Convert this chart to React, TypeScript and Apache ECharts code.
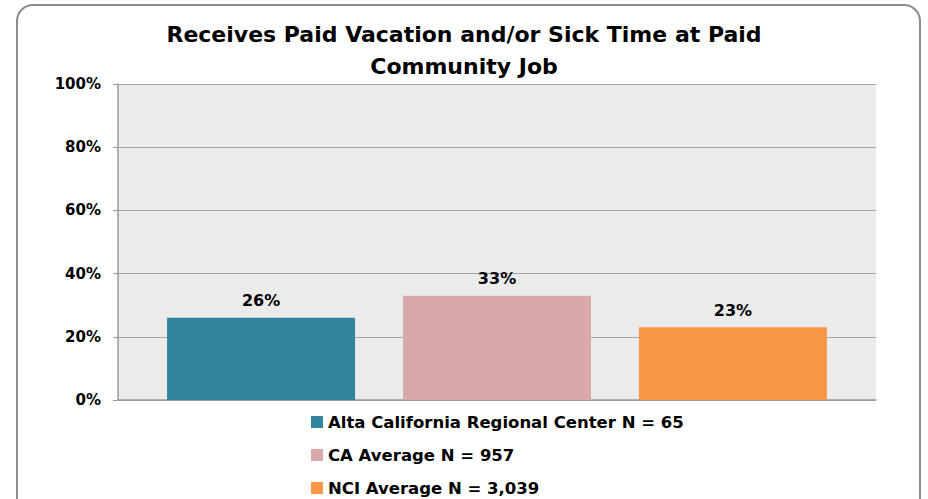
import React, { useEffect, useRef } from "react";
import * as echarts from "echarts";

const titleText = "Receives Paid Vacation and/or Sick Time at Paid\nCommunity Job";
const seriesNames = ["Alta California Regional Center N = 65", "CA Average N = 957", "NCI Average N = 3,039"];
const seriesValues = [26, 33, 23];
const seriesColors = ["#31849B", "#D9A8A9", "#F79646"];
const categories = [""];

export default function App() {
  const ref = useRef<HTMLDivElement>(null);
  useEffect(() => {
    if (!ref.current) return;
    const chart = echarts.init(ref.current, null, { renderer: "svg" });
    const font = "'DejaVu Sans', sans-serif";
    chart.setOption({
      animation: false,
      backgroundColor: "#ffffff",
      title: {
        text: titleText,
        left: "center",
        top: 13,
        textStyle: { fontFamily: font, fontWeight: "bold", fontSize: 22, lineHeight: 32, color: "#000" },
      },
      graphic: [
        {
          type: "rect",
          shape: { x: 17, y: 5, width: 903, height: 530, r: 16 },
          style: { fill: "none", stroke: "#8c8c8c", lineWidth: 2 },
          z: 100,
        },
      ],
      legend: {
        orient: "vertical",
        left: 306,
        top: 408,
        height: 150,
        itemWidth: 12,
        itemHeight: 12,
        itemGap: 15,
        icon: "rect",
        textStyle: { fontFamily: font, fontWeight: "bold", fontSize: 16.5, color: "#000", lineHeight: 18 },
        data: seriesNames,
      },
      grid: {
        left: 118,
        right: 52,
        top: 84,
        bottom: 99,
        show: true,
        backgroundColor: "#EBEBEB",
        borderWidth: 0,
      },
      xAxis: {
        type: "category",
        data: categories,
        axisLine: { show: true, lineStyle: { color: "#9a9a9a", width: 1.5 } },
        axisTick: { show: false },
        axisLabel: { show: false },
      },
      yAxis: {
        type: "value",
        min: 0,
        max: 100,
        interval: 20,
        axisLine: { show: true, lineStyle: { color: "#9a9a9a", width: 1.5 } },
        axisTick: { show: true, length: 5, lineStyle: { color: "#9a9a9a" } },
        splitLine: { lineStyle: { color: "#a6a6a6", width: 1 } },
        axisLabel: {
          formatter: "{value}%",
          fontFamily: font,
          fontWeight: "bold",
          fontSize: 15,
          color: "#000",
          margin: 17,
        },
      },
      series: seriesNames.map((name, i) => ({
        name,
        type: "bar",
        data: [seriesValues[i]],
        barWidth: 188,
        barGap: "25.5%",
        itemStyle: { color: seriesColors[i] },
        label: {
          show: true,
          position: "top",
          distance: 9,
          formatter: "{c}%",
          fontFamily: font,
          fontWeight: "bold",
          fontSize: 16,
          color: "#000",
        },
      })),
    });
    return () => chart.dispose();
  }, []);
  return <div ref={ref} style={{ position: "fixed", left: 0, top: 0, width: 928, height: 499 }} />;
}
